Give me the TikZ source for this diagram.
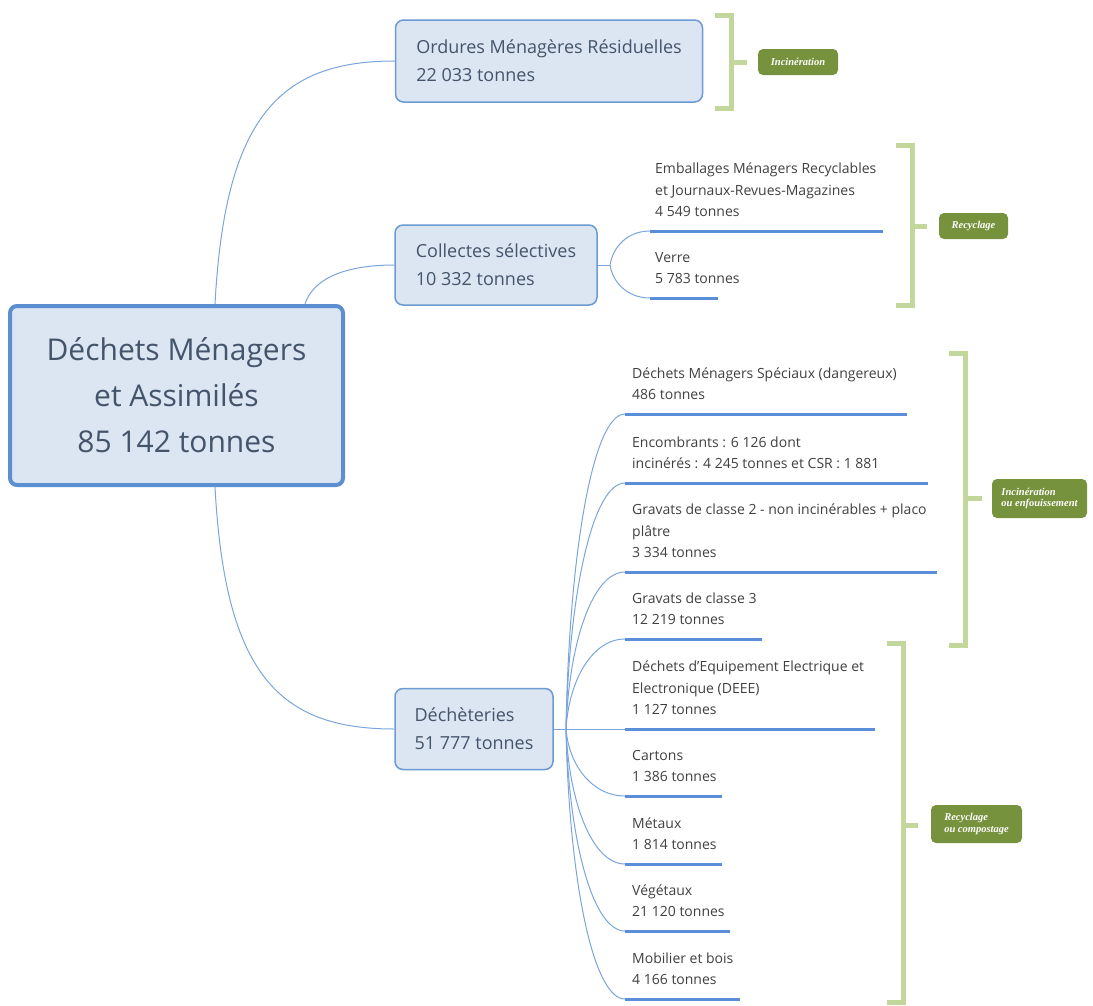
\documentclass[tikz,border=0pt]{standalone}
\usepackage{fontspec}
\setmainfont{Open Sans}
\newfontfamily\lblfont{Liberation Serif}
\usetikzlibrary{calc}
\definecolor{boxfill}{HTML}{DCE6F2}
\definecolor{boxdraw}{HTML}{6C9AD2}
\definecolor{maindraw}{HTML}{5B8FD2}
\definecolor{conn}{HTML}{7AA5DC}
\definecolor{uline}{HTML}{5A8ED8}
\definecolor{brk}{HTML}{C3D69B}
\definecolor{lblfill}{HTML}{76923C}
\definecolor{boxtext}{HTML}{44546A}
\definecolor{leaftext}{HTML}{404040}
\tikzset{
  mainbox/.style={draw=maindraw, line width=4pt, fill=boxfill, rounded corners=7pt,
    minimum width=333pt, minimum height=179pt, align=center, inner sep=0pt,
    font=\fontsize{30}{46}\selectfont, text=boxtext},
  branchbox/.style={draw=boxdraw, line width=1.5pt, fill=boxfill, rounded corners=8pt,
    align=left, inner sep=0pt, font=\fontsize{18}{28}\selectfont, text=boxtext},
  leaf/.style={anchor=south west, align=left, inner sep=0pt,
    font=\fontsize{14}{21.5}\selectfont, text=leaftext},
  conn/.style={draw=conn, line width=1pt},
  uline/.style={draw=uline, line width=3pt},
  brk/.style={draw=brk, line width=5pt},
  lbl/.style={fill=lblfill, rounded corners=5pt, text=white, align=left, inner sep=0pt,
    font=\lblfont\bfseries\itshape\fontsize{10.5}{11.5}\selectfont},
  fan/.style={to path={.. controls ($(\tikztostart)!0.55!(\tikztostart|-\tikztotarget)+(3,0)$)
    and ($(\tikztotarget)!0.55!(\tikztostart|-\tikztotarget)$) .. (\tikztotarget)}}
}
\begin{document}
\begin{tikzpicture}[x=1pt,y=-1pt]
\path[use as bounding box] (0,0) rectangle (1093,1005);

% main and branch boxes
\node[mainbox] (main) at (176.5,395.5) {Déchets Ménagers\\et Assimilés\\85 142 tonnes};
\node[branchbox, minimum width=307pt, minimum height=82pt] (b1) at (549,61)
  {Ordures Ménagères Résiduelles\\22 033 tonnes};
\node[branchbox, minimum width=202pt, minimum height=80pt] (b2) at (496,265)
  {Collectes sélectives\\10 332 tonnes};
\node[branchbox, minimum width=158pt, minimum height=81pt] (b3) at (474,729)
  {Déchèteries\\51 777 tonnes};

% main connectors
\draw[conn] ([xshift=38.5pt]main.north) .. controls +(10,-186) and +(-116,0) .. (b1.west);
\draw[conn] ([xshift=128.5pt]main.north) .. controls +(8,-25) and +(-50,0) .. (b2.west);
\draw[conn] ([xshift=38.5pt]main.south) .. controls +(10,186) and +(-116,0) .. (b3.west);

% junctions
\coordinate (j2) at (610,265);
\coordinate (j3) at (566,729);
\draw[conn] (b2.east) -- (j2);
\draw[conn] (b3.east) -- (j3);

% leaf underline coordinates
\coordinate (ua) at (650,231); \coordinate (uae) at (883,231);
\coordinate (ub) at (650,298); \coordinate (ube) at (718,298);
\coordinate (u1) at (625,414); \coordinate (u1e) at (907,414);
\coordinate (u2) at (625,483); \coordinate (u2e) at (928,483);
\coordinate (u3) at (625,572); \coordinate (u3e) at (937,572);
\coordinate (u4) at (625,639); \coordinate (u4e) at (762,639);
\coordinate (u5) at (625,729); \coordinate (u5e) at (875,729);
\coordinate (u6) at (625,796); \coordinate (u6e) at (722,796);
\coordinate (u7) at (625,864); \coordinate (u7e) at (722,864);
\coordinate (u8) at (625,931); \coordinate (u8e) at (730,931);
\coordinate (u9) at (625,999); \coordinate (u9e) at (740,999);

% leaf texts
\node[leaf] (ta) at ($(ua)+(5,-7.5)$) {Emballages Ménagers Recyclables\\et Journaux-Revues-Magazines\\4 549 tonnes\strut};
\node[leaf] (tb) at ($(ub)+(5,-7.5)$) {Verre\\5 783 tonnes\strut};
\node[leaf] (t1) at ($(u1)+(7,-7.5)$) {Déchets Ménagers Spéciaux (dangereux)\\486 tonnes\strut};
\node[leaf] (t2) at ($(u2)+(7,-7.5)$) {Encombrants : 6 126 dont\\incinérés : 4 245 tonnes et CSR : 1 881\strut};
\node[leaf] (t3) at ($(u3)+(7,-7.5)$) {Gravats de classe 2 - non incinérables + placo\\plâtre\\3 334 tonnes\strut};
\node[leaf] (t4) at ($(u4)+(7,-7.5)$) {Gravats de classe 3\\12 219 tonnes\strut};
\node[leaf] (t5) at ($(u5)+(7,-7.5)$) {Déchets d'Equipement Electrique et\\Electronique (DEEE)\\1 127 tonnes\strut};
\node[leaf] (t6) at ($(u6)+(7,-7.5)$) {Cartons\\1 386 tonnes\strut};
\node[leaf] (t7) at ($(u7)+(7,-7.5)$) {Métaux\\1 814 tonnes\strut};
\node[leaf] (t8) at ($(u8)+(7,-7.5)$) {Végétaux\\21 120 tonnes\strut};
\node[leaf] (t9) at ($(u9)+(7,-7.5)$) {Mobilier et bois\\4 166 tonnes\strut};

% underlines
\foreach \u in {ua,ub,u1,u2,u3,u4,u5,u6,u7,u8,u9}
  \draw[uline] (\u) -- (\u e);

% fans
\foreach \u in {ua,ub}
  \draw[conn] (j2) to[fan] (\u);
\foreach \u in {u1,u2,u3,u4,u5,u6,u7,u8,u9}
  \draw[conn] (j3) to[fan] (\u);

% brackets and labels
\draw[brk] (715,15) -- (731,15) -- (731,108) -- (715,108);
\draw[brk] (731,62) -- (747,62);
\node[lbl, minimum width=80pt, minimum height=26pt] (l1) at (798,62) {Incinération};

\draw[brk] (896,145) -- (912,145) -- (912,305) -- (896,305);
\draw[brk] (912,226) -- (927,226);
\node[lbl, minimum width=69pt, minimum height=26pt] (l2) at (973.5,226) {Recyclage};

\draw[brk] (949,353) -- (965,353) -- (965,645) -- (949,645);
\draw[brk] (965,498) -- (982,498);
\node[lbl, minimum width=95pt, minimum height=39pt] (l3) at (1039.5,498.5) {Incinération\\ou enfouissement};

\draw[brk] (887,643) -- (903,643) -- (903,1002) -- (887,1002);
\draw[brk] (903,825) -- (918,825);
\node[lbl, minimum width=91pt, minimum height=38pt] (l4) at (976.5,824) {Recyclage\\ou compostage};
\end{tikzpicture}
\end{document}
